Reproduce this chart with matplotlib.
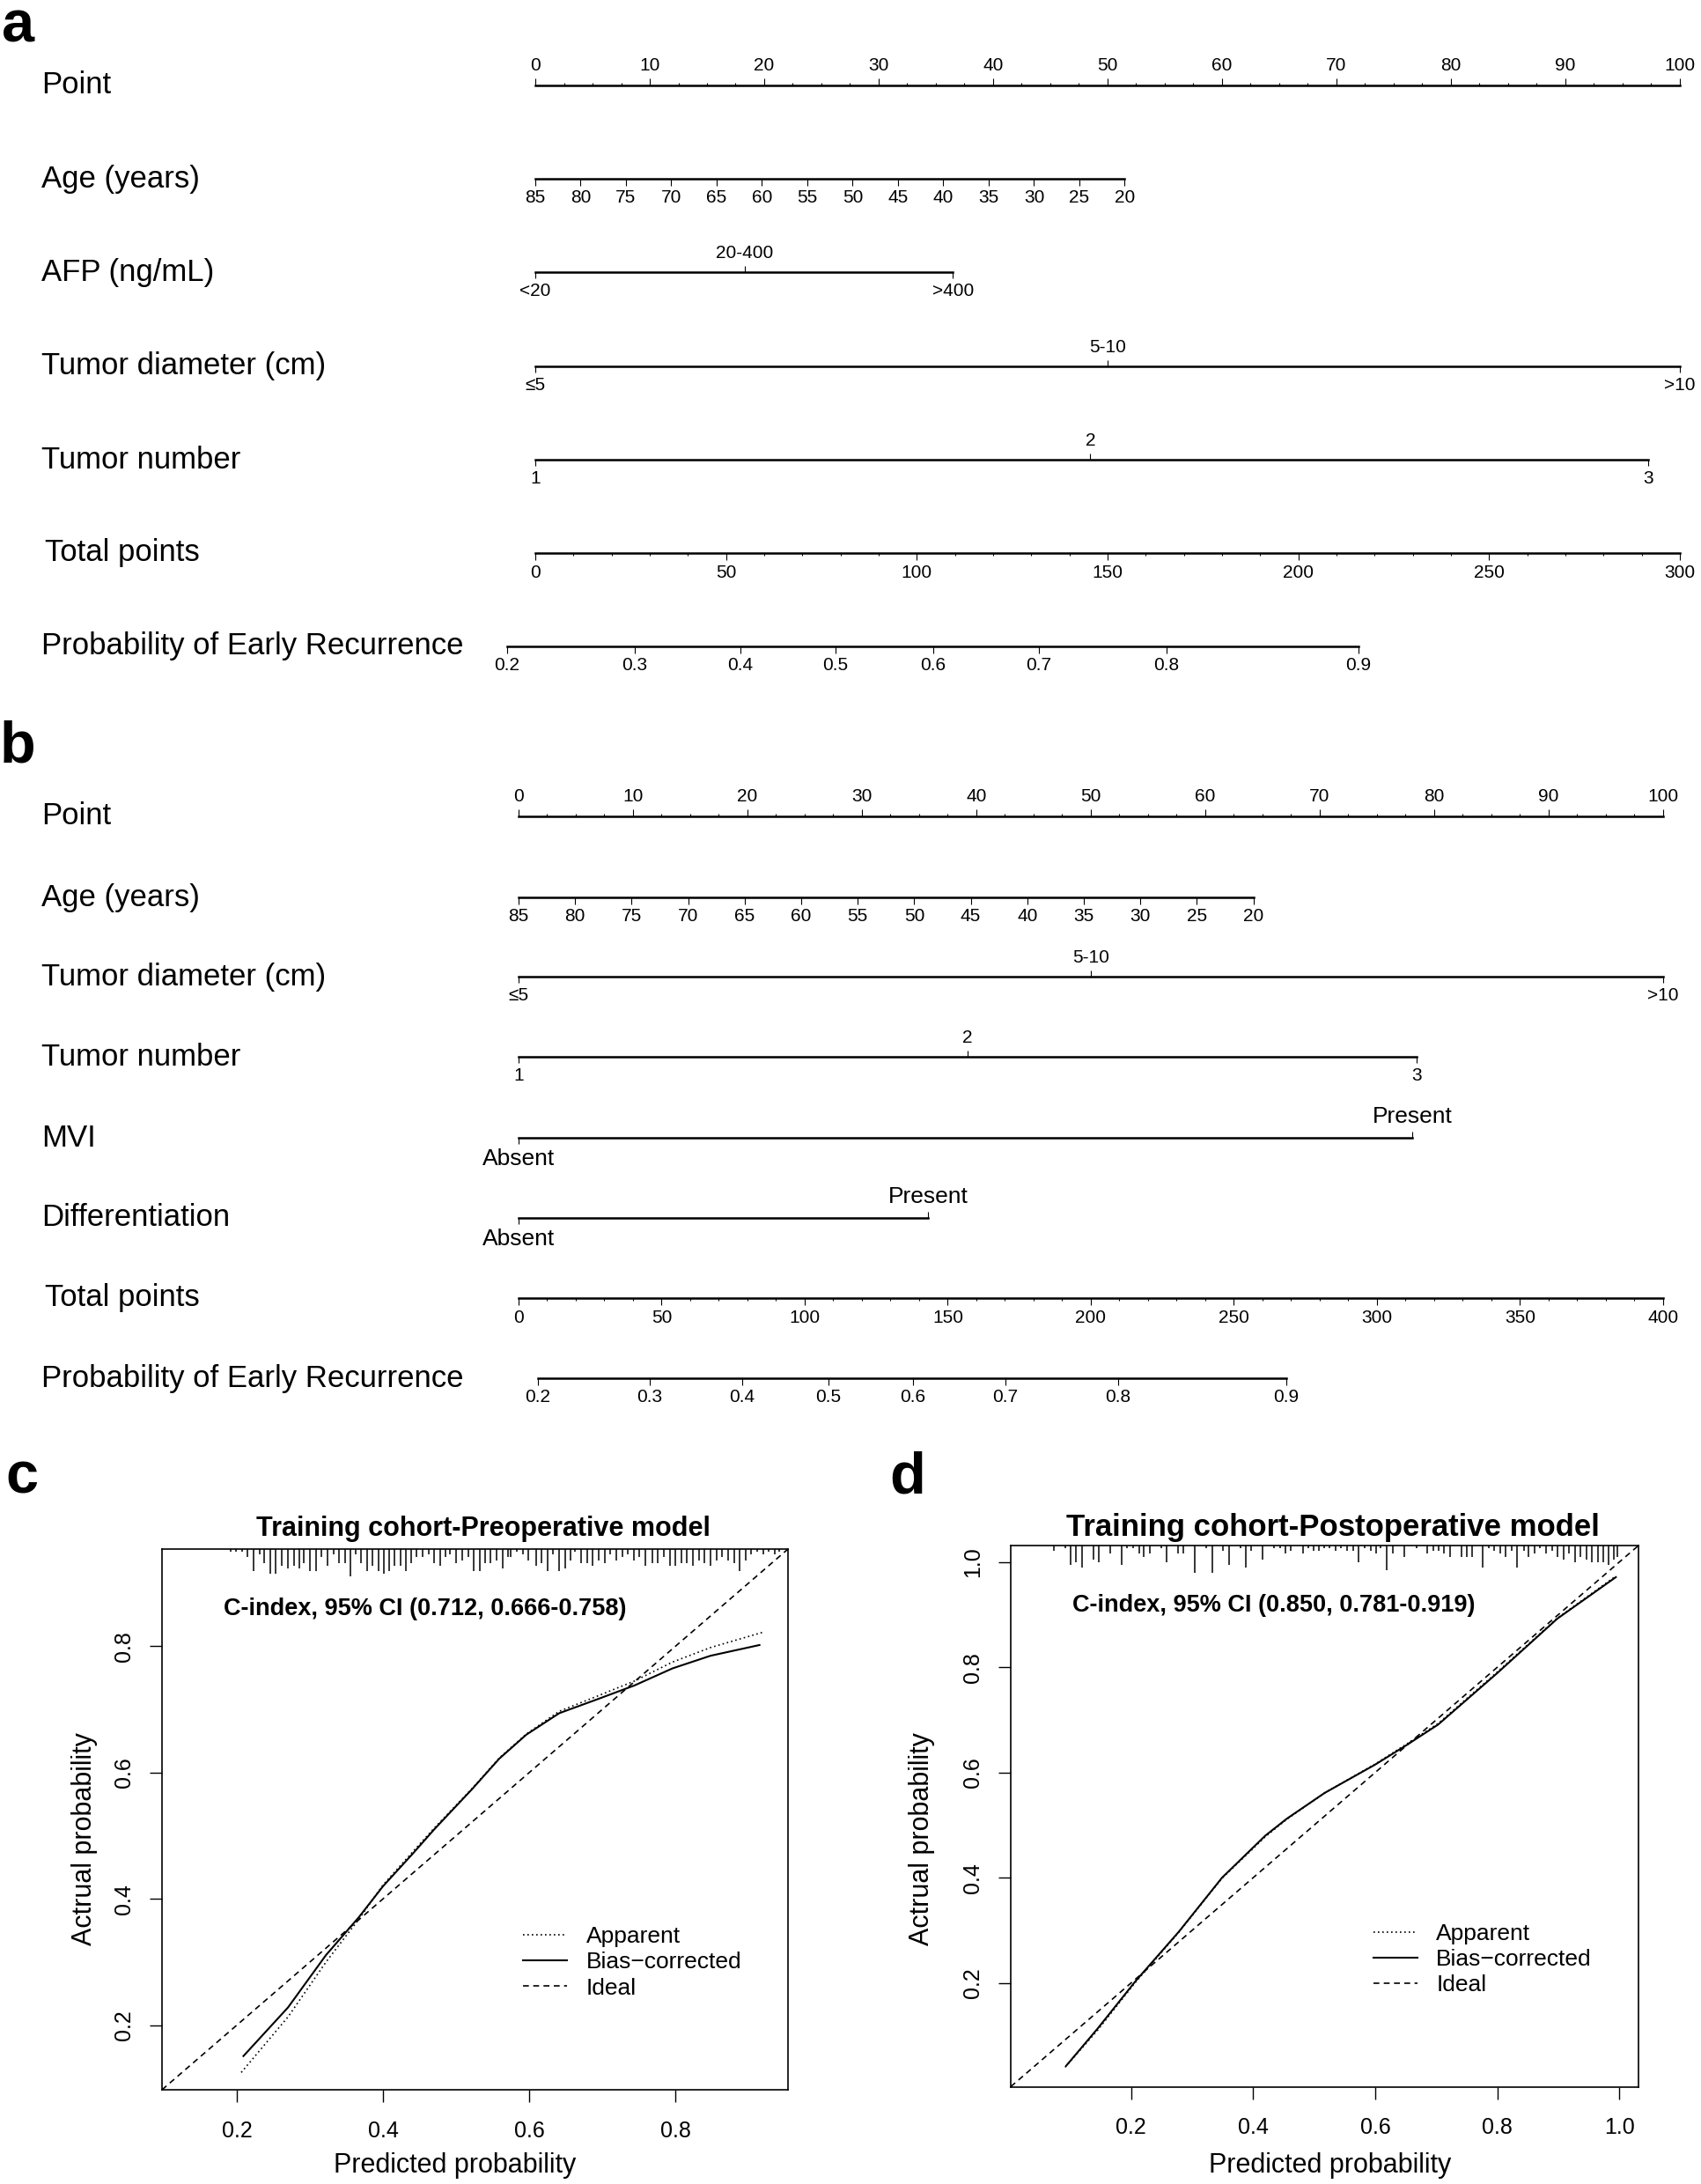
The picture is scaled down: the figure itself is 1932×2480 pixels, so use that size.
import numpy as np
import matplotlib
matplotlib.use("Agg")
import matplotlib.pyplot as plt
from matplotlib import transforms

plt.rcParams['font.family'] = ['Liberation Sans', 'DejaVu Sans']

W, H = 1933, 2480
DPI = 100

# ---------------- panel a: preoperative nomogram ----------------
age_ticks = [85, 80, 75, 70, 65, 60, 55, 50, 45, 40, 35, 30, 25, 20]
a_age_pts = 51.5                      # points for age 20
a_afp_lab = ['<20', '20-400', '>400']
a_afp_pts = [0, 18.3, 36.5]
a_diam_lab = ['≤5', '5-10', '>10']
a_diam_pts = [0, 50, 100]
a_num_lab = ['1', '2', '3']
a_num_pts = [0, 48.5, 97.2]
a_total_max = 300
prob_lab = ['0.2', '0.3', '0.4', '0.5', '0.6', '0.7', '0.8', '0.9']
a_prob_tot = [-7.4, 26.1, 53.8, 78.7, 104.3, 132.0, 165.5, 215.8]

# ---------------- panel b: postoperative nomogram ----------------
b_age_pts = 64.2
b_diam_lab = ['≤5', '5-10', '>10']
b_diam_pts = [0, 50, 100]
b_num_lab = ['1', '2', '3']
b_num_pts = [0, 39.2, 78.5]
b_mvi_lab = ['Absent', 'Present']
b_mvi_pts = [0, 78.1]
b_diff_lab = ['Absent', 'Present']
b_diff_pts = [0, 35.8]
b_total_max = 400
b_prob_tot = [6.8, 45.8, 78.2, 108.3, 137.8, 170.2, 209.5, 268.3]

# ---------------- panel c: calibration, preoperative ----------------
c_lim = (0.0976, 0.954)
c_ticks = [0.2, 0.4, 0.6, 0.8]
c_app_x = [0.206, 0.270, 0.322, 0.367, 0.400, 0.441, 0.470, 0.522, 0.559, 0.596, 0.641, 0.693, 0.744, 0.796, 0.848, 0.919]
c_app_y = [0.125, 0.213, 0.300, 0.368, 0.422, 0.475, 0.512, 0.575, 0.623, 0.661, 0.697, 0.721, 0.745, 0.775, 0.798, 0.822]
c_bias_x = [0.209, 0.270, 0.322, 0.367, 0.400, 0.441, 0.470, 0.522, 0.559, 0.596, 0.641, 0.693, 0.744, 0.796, 0.848, 0.915]
c_bias_y = [0.151, 0.228, 0.311, 0.371, 0.420, 0.472, 0.510, 0.574, 0.622, 0.660, 0.694, 0.716, 0.738, 0.765, 0.785, 0.802]
c_rug_x = [0.191, 0.199, 0.207, 0.215, 0.223, 0.231, 0.237, 0.246, 0.253, 0.261,
           0.270, 0.278, 0.285, 0.292, 0.300, 0.308, 0.316, 0.324, 0.332, 0.340,
           0.348, 0.355, 0.362, 0.370, 0.378, 0.386, 0.394, 0.401, 0.408, 0.416,
           0.424, 0.431, 0.438, 0.446, 0.454, 0.462, 0.470, 0.478, 0.486, 0.492,
           0.500, 0.508, 0.517, 0.524, 0.532, 0.540, 0.547, 0.555, 0.564, 0.571,
           0.575, 0.583, 0.591, 0.599, 0.609, 0.617, 0.625, 0.633, 0.641, 0.649,
           0.657, 0.663, 0.671, 0.679, 0.687, 0.695, 0.703, 0.711, 0.719, 0.727,
           0.735, 0.743, 0.751, 0.759, 0.768, 0.776, 0.784, 0.792, 0.800, 0.808,
           0.816, 0.824, 0.832, 0.840, 0.848, 0.856, 0.864, 0.872, 0.880, 0.888,
           0.896, 0.904, 0.912, 0.920, 0.928, 0.936, 0.942]
c_rug_n = [1, 1, 1, 3, 8, 2, 5, 9, 9, 6, 7, 6, 7, 5, 8, 8, 3, 6, 2, 5,
           5, 10, 2, 5, 8, 6, 8, 9, 8, 6, 6, 8, 5, 3, 3, 2, 5, 6, 3, 2,
           5, 4, 3, 8, 8, 5, 5, 4, 7, 3,
           3, 1, 2, 4, 6, 5, 8, 2, 8, 7, 4, 1, 5, 5, 6, 4, 5, 2, 4, 3,
           2, 4, 3, 6, 5, 5, 3, 6, 6, 5, 5, 6, 4, 5, 6, 4, 3, 4, 5, 8,
           4, 2, 1, 2, 1, 2, 1]

# ---------------- panel d: calibration, postoperative ----------------
d_lim = (0.003, 1.031)
d_ticks = [0.2, 0.4, 0.6, 0.8, 1.0]
d_app_x = [0.092, 0.145, 0.207, 0.278, 0.349, 0.420, 0.455, 0.517, 0.600, 0.650, 0.703, 0.800, 0.898, 0.994]
d_app_y = [0.040, 0.110, 0.201, 0.296, 0.399, 0.478, 0.511, 0.561, 0.616, 0.653, 0.693, 0.791, 0.893, 0.973]
d_bias_x = [0.094, 0.145, 0.207, 0.278, 0.349, 0.420, 0.455, 0.517, 0.600, 0.650, 0.703, 0.800, 0.898, 0.994]
d_bias_y = [0.043, 0.113, 0.203, 0.297, 0.400, 0.480, 0.512, 0.561, 0.615, 0.651, 0.691, 0.789, 0.892, 0.971]
d_rug_x = [0.073, 0.092, 0.101, 0.110, 0.120, 0.138, 0.147, 0.166, 0.185, 0.194,
           0.203, 0.213, 0.221, 0.231, 0.250, 0.258, 0.277, 0.286, 0.305, 0.323,
           0.333, 0.351, 0.360, 0.379, 0.388, 0.397, 0.416, 0.434, 0.444, 0.453,
           0.462, 0.481, 0.490, 0.499, 0.508,
           0.516, 0.525, 0.535, 0.544, 0.554, 0.564, 0.572, 0.582, 0.592, 0.601,
           0.609, 0.619, 0.629, 0.648, 0.667, 0.685, 0.695, 0.703, 0.713, 0.722,
           0.741, 0.750, 0.758, 0.776, 0.786, 0.795, 0.805, 0.814, 0.823, 0.832,
           0.843, 0.851, 0.861, 0.870, 0.880, 0.890, 0.899, 0.909, 0.917, 0.927,
           0.936, 0.946, 0.954, 0.964, 0.973, 0.982, 0.990, 0.997]
d_rug_n = [2, 1, 7, 6, 8, 5, 6, 3, 7, 1, 1, 3, 4, 3, 1, 6, 3, 3, 10, 1,
           10, 2, 7, 1, 8, 2, 5, 1, 1, 3, 2, 3, 1, 2, 2,
           1, 1, 2, 1, 2, 2, 6, 1, 2, 3, 1, 9, 3, 4, 1, 3, 2, 2, 3, 4,
           4, 4, 4, 8, 1, 2, 3, 4, 2, 8, 2, 4, 3, 1, 3, 2, 4, 5, 3, 6,
           4, 5, 6, 6, 6, 7, 5, 4]

fig = plt.figure(figsize=(W / DPI, H / DPI), dpi=DPI)

LW = 1.8
TK = dict(direction='out', width=0.8, labelsize=15, pad=3.5)


def strip(y, p0, p1, v0, v1, margin=80):
    # a flat axes whose x-scale puts value v0 at pixel p0 and v1 at pixel p1
    ax = fig.add_axes([(p0 - margin) / W, 1 - y / H, (p1 - p0 + 2 * margin) / W, 1e-5])
    k = (v1 - v0) / (p1 - p0)
    ax.set_xlim(v0 - margin * k, v1 + margin * k)
    ax.patch.set_visible(False)
    ax.set_yticks([])
    for s in ax.spines.values():
        s.set_visible(False)
    return ax


def line(ax, side, lo, hi):
    sp = ax.spines[side]
    sp.set_visible(True)
    sp.set_linewidth(LW)
    sp.set_bounds(lo, hi)


def label(text, x, y, size=25):
    fig.text(x / W, 1 - y / H, text, fontsize=size, va='center', ha='left')


def points_row(y, p0, p1):
    ax = strip(y, p0, p1, 0, 100)
    line(ax, 'top', 0, 100)
    ax.set_xticks(np.arange(0, 101, 10))
    ax.set_xticks(np.arange(0, 101, 2.5), minor=True)
    ax.tick_params(axis='x', which='both', top=True, bottom=False,
                   labeltop=True, labelbottom=False, **TK)
    ax.tick_params(axis='x', which='major', length=6)
    ax.tick_params(axis='x', which='minor', length=2.5)


def age_row(y, p0, p1, max_pts):
    old, young = max(age_ticks), min(age_ticks)
    ax = strip(y, p0, p1, old, old - (old - young) * 100 / max_pts)
    line(ax, 'bottom', young, old)
    ax.set_xticks(age_ticks)
    ax.tick_params(axis='x', length=5.5, **TK)


def cat_row(y, p0, p1, labs, pts, size=15):
    ax = strip(y, p0, p1, 0, 100)
    line(ax, 'bottom', min(pts), max(pts))
    low = [i for i in range(len(labs)) if i != 1]
    ax.set_xticks([pts[i] for i in low], [labs[i] for i in low])
    kw = dict(direction='out', width=0.8, labelsize=size, pad=3.5, length=5)
    ax.tick_params(axis='x', **kw)
    top = ax.secondary_xaxis('top')
    top.set_xticks([pts[1]], [labs[1]])
    for s in top.spines.values():
        s.set_visible(False)
    top.tick_params(axis='x', **kw)


def total_row(y, p0, p1, tmax):
    ax = strip(y, p0, p1, 0, tmax)
    line(ax, 'bottom', 0, tmax)
    ax.set_xticks(np.arange(0, tmax + 1, 50))
    ax.set_xticks(np.arange(0, tmax + 1, 10), minor=True)
    ax.tick_params(axis='x', which='both', **TK)
    ax.tick_params(axis='x', which='major', length=6)
    ax.tick_params(axis='x', which='minor', length=2.5)


def prob_row(y, p0, p1, tmax, pos):
    ax = strip(y, p0, p1, 0, tmax)
    line(ax, 'bottom', min(pos), max(pos))
    ax.set_xticks(pos, prob_lab)
    ax.tick_params(axis='x', length=5.5, **TK)


# ----- panel a -----
ya = [97, 203, 309, 416, 522, 628, 734]
a0, a1 = 608, 1908
points_row(ya[0], a0, a1)
age_row(ya[1], a0, a1, a_age_pts)
cat_row(ya[2], a0, a1, a_afp_lab, a_afp_pts)
cat_row(ya[3], a0, a1, a_diam_lab, a_diam_pts)
cat_row(ya[4], a0, a1, a_num_lab, a_num_pts)
total_row(ya[5], a0, a1, a_total_max)
prob_row(ya[6], a0, a1, a_total_max, a_prob_tot)
for txt, y in zip(['Point', 'Age (years)', 'AFP (ng/mL)', 'Tumor diameter (cm)',
                   'Tumor number', 'Total points', 'Probability of Early Recurrence'], ya):
    label(txt, 51 if txt == 'Total points' else 47, y)

# ----- panel b -----
yb = [927, 1019, 1109, 1200, 1292, 1383, 1474, 1565]
b0, b1 = 589, 1889
points_row(yb[0], b0, b1)
age_row(yb[1], b0, b1, b_age_pts)
cat_row(yb[2], b0, b1, b_diam_lab, b_diam_pts)
cat_row(yb[3], b0, b1, b_num_lab, b_num_pts)
cat_row(yb[4], b0, b1, b_mvi_lab, b_mvi_pts, size=19)
cat_row(yb[5], b0, b1, b_diff_lab, b_diff_pts, size=19)
total_row(yb[6], b0, b1, b_total_max)
prob_row(yb[7], b0, b1, b_total_max, b_prob_tot)
for txt, y in zip(['Point', 'Age (years)', 'Tumor diameter (cm)', 'Tumor number', 'MVI',
                   'Differentiation', 'Total points', 'Probability of Early Recurrence'], yb):
    label(txt, 51 if txt == 'Total points' else 47, y)


# ----- panels c, d -----
def calib(rect, lim, ticks, app, bias, rug, title, cidx, title_xy, title_size,
          ylab_pos, xlab_pos, leg_xy):
    ax = fig.add_axes(rect)
    ax.set_xlim(lim)
    ax.set_ylim(lim)
    ax.plot(app[0], app[1], color='black', lw=1.2, ls=(0, (1, 2)), label='Apparent')
    ax.plot(bias[0], bias[1], color='black', lw=1.5, ls='-', label='Bias\u2212corrected')
    ax.axline((0, 0), (1, 1), color='black', lw=1.2, ls=(0, (4, 3)), label='Ideal')
    tr = transforms.blended_transform_factory(ax.transData, ax.transAxes)
    ax.vlines(rug[0], 1 - np.asarray(rug[1]) * 0.0051, 1, transform=tr, color='black', lw=1.1)
    ax.set_xticks(ticks, [f'{t:.1f}' for t in ticks])
    ax.set_yticks(ticks, [f'{t:.1f}' for t in ticks])
    ax.tick_params(axis='both', direction='out', length=10, width=1, labelsize=18)
    ax.tick_params(axis='x', pad=15)
    ax.tick_params(axis='y', pad=12)
    plt.setp(ax.get_yticklabels(), rotation=90, va='center')
    for s in ax.spines.values():
        s.set_linewidth(1.2)
    ax.set_xlabel('Predicted probability', fontsize=22, va='center')
    ax.xaxis.set_label_coords(*xlab_pos)
    ax.set_ylabel('Actrual probability', fontsize=22, va='center')
    ax.yaxis.set_label_coords(*ylab_pos)
    ax.text(*title_xy, title, transform=ax.transAxes, ha='center', va='center',
            fontsize=title_size, fontweight='bold')
    ax.text(0.098, 0.89, cidx, transform=ax.transAxes, ha='left', va='center',
            fontsize=19.5, fontweight='bold')
    ax.legend(loc='upper left', bbox_to_anchor=leg_xy, frameon=False, fontsize=19,
              handlelength=1.9, handletextpad=0.8, labelspacing=0.2,
              borderpad=0, borderaxespad=0)
    return ax


calib([184 / W, 1 - 2373 / H, 711 / W, 614 / H], c_lim, c_ticks,
      (c_app_x, c_app_y), (c_bias_x, c_bias_y), (c_rug_x, c_rug_n),
      'Training cohort-Preoperative model', 'C-index, 95% CI (0.712, 0.666-0.758)',
      (0.513, 1.037), 22, (-0.124, 0.464), (0.468, -0.140), (0.577, 0.303))
calib([1148 / W, 1 - 2369.5 / H, 713 / W, 614.5 / H], d_lim, d_ticks,
      (d_app_x, d_app_y), (d_bias_x, d_bias_y), (d_rug_x, d_rug_n),
      'Training cohort-Postoperative model', 'C-index, 95% CI (0.850, 0.781-0.919)',
      (0.513, 1.033), 25, (-0.142, 0.458), (0.508, -0.146), (0.578, 0.302))

# panel letters
fig.text(2 / W, 1.0, 'a', fontsize=48, fontweight='bold', va='top', ha='left')
for ch, x, y in [('b', 0, 865), ('c', 6, 1696), ('d', 1010, 1696)]:
    fig.text(x / W, 1 - y / H, ch, fontsize=48, fontweight='bold', va='baseline', ha='left')

fig.savefig('out.png', dpi=DPI)
